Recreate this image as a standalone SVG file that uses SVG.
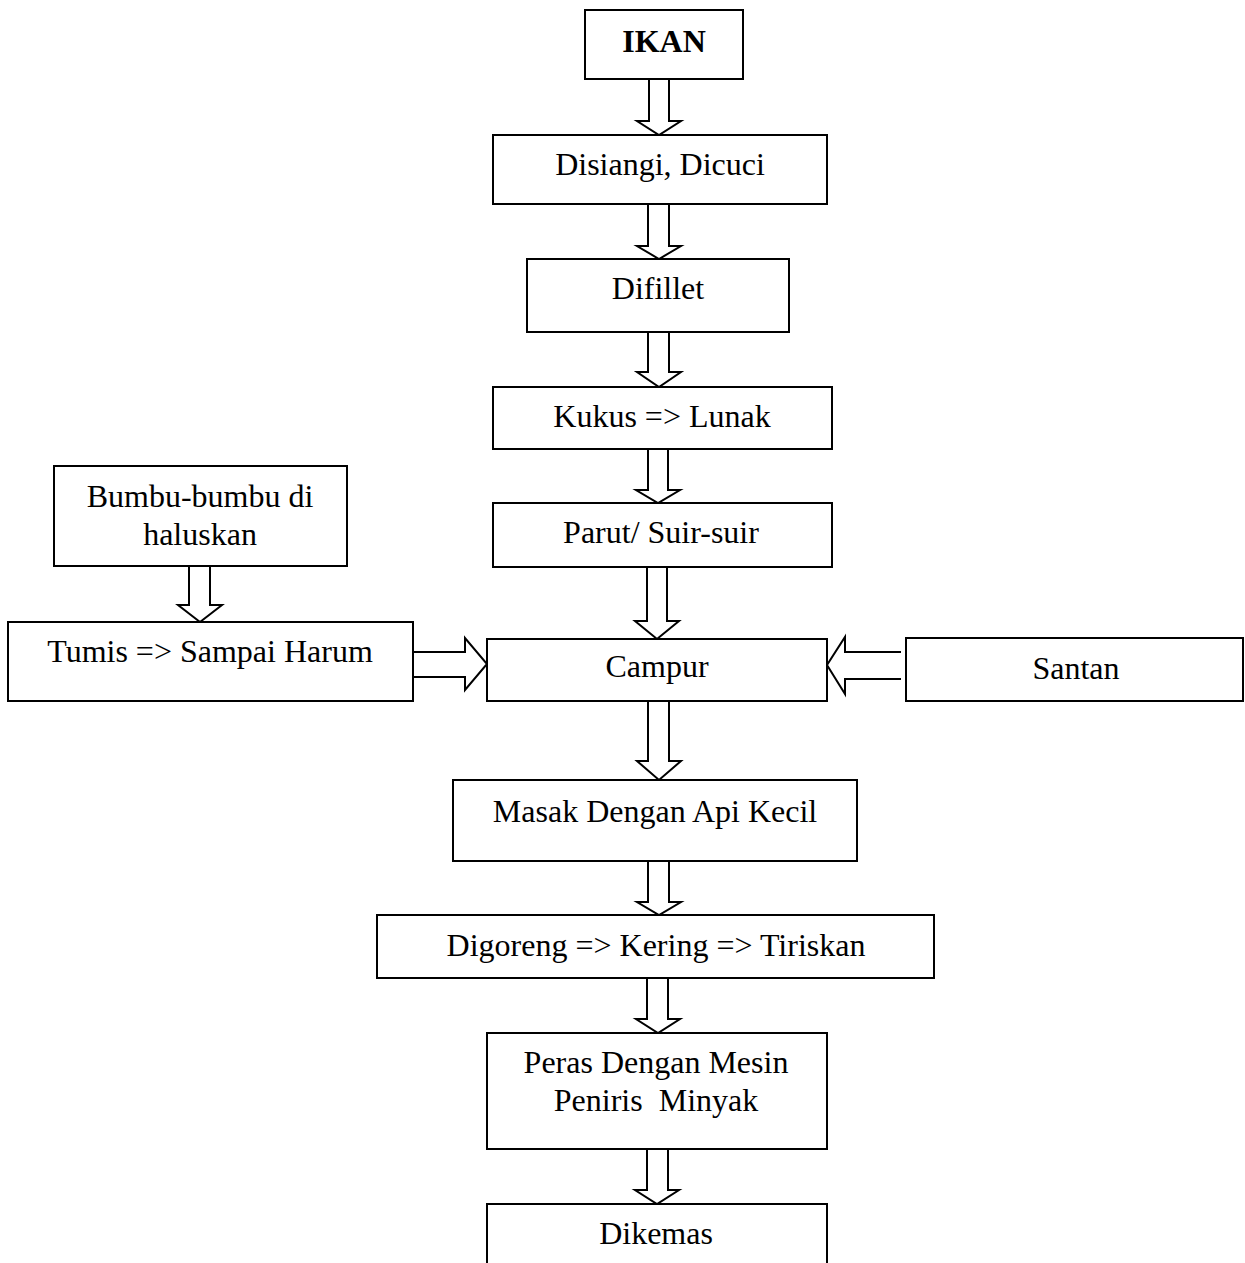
<svg xmlns="http://www.w3.org/2000/svg" width="1245" height="1263" viewBox="0 0 1245 1263">
  <style>
    .box { fill: #ffffff; stroke: #000000; stroke-width: 2; }
    .arr { fill: #ffffff; stroke: #000000; stroke-width: 2; stroke-linejoin: miter; }
    .lbl { font-family: "Liberation Serif", "Times New Roman", serif; font-size: 32px; fill: #000000; text-anchor: middle; white-space: pre; }
    .bold { font-weight: bold; }
  </style>
  <rect x="0" y="0" width="1245" height="1263" fill="#ffffff"/>

  <!-- block arrows between steps -->
  <g id="connectors">
    <path class="arr" d="M649,79 V121 H637 L659,135 L681,121 H669 V79"/>
    <path class="arr" d="M648,204 V246 H637 L659,259 L681,246 H669 V204"/>
    <path class="arr" d="M648,332 V372 H637 L659,387 L681,372 H669 V332"/>
    <path class="arr" d="M648,449 V490 H636 L658,503 L680,490 H668 V449"/>
    <path class="arr" d="M647,567 V621 H635 L657,639 L679,621 H667 V567"/>
    <path class="arr" d="M648,701 V761 H637 L659,780 L681,761 H669 V701"/>
    <path class="arr" d="M648,861 V902 H637 L659,915 L681,902 H669 V861"/>
    <path class="arr" d="M647,978 V1019 H636 L658,1033 L680,1019 H668 V978"/>
    <path class="arr" d="M647,1149 V1190 H635 L657,1204 L679,1190 H668 V1149"/>
    <path class="arr" d="M189,566 V605 H178 L200,622 L222,605 H210 V566"/>
    <path class="arr" d="M413,652 H465 V638 L487,664 L465,690 V677 H413"/>
    <path class="arr" d="M901,652 H845 V637 L827,665 L845,694 V679 H901"/>
  </g>

  <g id="ikan">
    <rect class="box" x="585" y="10" width="158" height="69"/>
    <text class="lbl bold" x="664" y="52">IKAN</text>
  </g>
  <g id="disiangi">
    <rect class="box" x="493" y="135" width="334" height="69"/>
    <text class="lbl" x="660" y="175">Disiangi, Dicuci</text>
  </g>
  <g id="difillet">
    <rect class="box" x="527" y="259" width="262" height="73"/>
    <text class="lbl" x="658" y="299">Difillet</text>
  </g>
  <g id="kukus">
    <rect class="box" x="493" y="387" width="339" height="62"/>
    <text class="lbl" x="662" y="427">Kukus =&gt; Lunak</text>
  </g>
  <g id="parut">
    <rect class="box" x="493" y="503" width="339" height="64"/>
    <text class="lbl" x="661" y="543">Parut/ Suir-suir</text>
  </g>
  <g id="bumbu">
    <rect class="box" x="54" y="466" width="293" height="100"/>
    <text class="lbl" x="200" y="507">Bumbu-bumbu di</text>
    <text class="lbl" x="200" y="545">haluskan</text>
  </g>
  <g id="tumis">
    <rect class="box" x="8" y="622" width="405" height="79"/>
    <text class="lbl" x="210" y="662">Tumis =&gt; Sampai Harum</text>
  </g>
  <g id="campur">
    <rect class="box" x="487" y="639" width="340" height="62"/>
    <text class="lbl" x="657" y="677">Campur</text>
  </g>
  <g id="santan">
    <rect class="box" x="906" y="638" width="337" height="63"/>
    <text class="lbl" x="1076" y="679">Santan</text>
  </g>
  <g id="masak">
    <rect class="box" x="453" y="780" width="404" height="81"/>
    <text class="lbl" x="655" y="822">Masak Dengan Api Kecil</text>
  </g>
  <g id="digoreng">
    <rect class="box" x="377" y="915" width="557" height="63"/>
    <text class="lbl" x="656" y="956">Digoreng =&gt; Kering =&gt; Tiriskan</text>
  </g>
  <g id="peras">
    <rect class="box" x="487" y="1033" width="340" height="116"/>
    <text class="lbl" x="656" y="1073">Peras Dengan Mesin</text>
    <text class="lbl" x="656" y="1111">Peniris  Minyak</text>
  </g>
  <g id="dikemas">
    <rect class="box" x="487" y="1204" width="340" height="80"/>
    <text class="lbl" x="656" y="1244">Dikemas</text>
  </g>
</svg>
